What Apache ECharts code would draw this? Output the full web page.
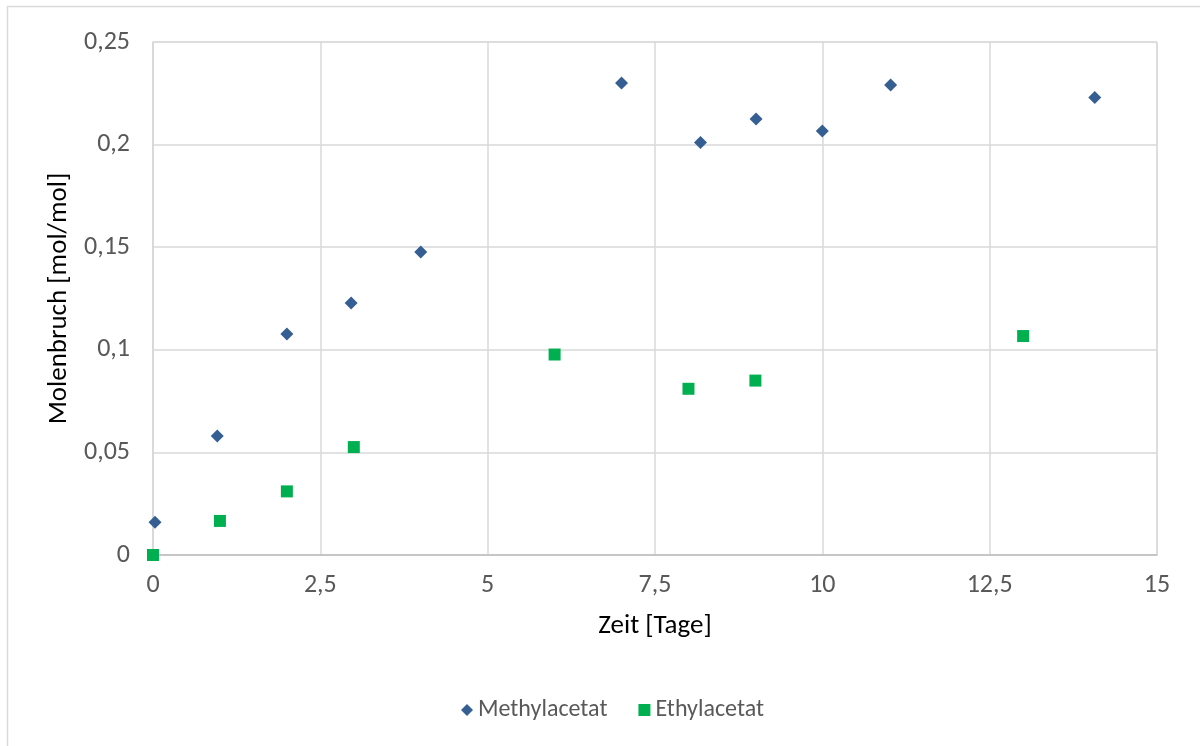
<!DOCTYPE html>
<html><head><meta charset="utf-8">
<script src="https://cdn.jsdelivr.net/npm/echarts@6/dist/echarts.min.js"></script>
<style>html,body{margin:0;padding:0;background:#fff;}#c{width:1200px;height:746px;}</style>
</head><body><div id="c"></div>
<script>
const seriesNames = ['Methylacetat', 'Ethylacetat'];
const methylX = [0.03, 0.96, 2.0, 2.96, 4.0, 7.0, 8.18, 9.01, 10.0, 11.02, 14.07];
const methylY = [0.016, 0.058, 0.1077, 0.1228, 0.1477, 0.230, 0.201, 0.2125, 0.2066, 0.229, 0.223];
const ethylX = [0, 1.0, 2.0, 3.0, 6.0, 8.0, 9.0, 13.0];
const ethylY = [0, 0.0166, 0.031, 0.0526, 0.0977, 0.081, 0.085, 0.1067];
const xTicks = {min: 0, max: 15, interval: 2.5};
const yTicks = {min: 0, max: 0.25, interval: 0.05};
const xTitle = 'Zeit [Tage]';
const yTitle = 'Molenbruch [mol/mol]';

const fmt = v => String(+v.toFixed(4)).replace('.', ',');
const pairs = (xs, ys) => xs.map((x, i) => [x, ys[i]]);
const font = "Carlito, Lato, 'Open Sans', sans-serif";
const chart = echarts.init(document.getElementById('c'), null, {renderer: 'canvas'});
chart.setOption({
  animation: false,
  textStyle: {fontFamily: font},
  graphic: [{type: 'rect', shape: {x: 7.5, y: 6.5, width: 1300, height: 800}, style: {fill: 'none', stroke: '#d9d9d9', lineWidth: 1.5}, silent: true, z: -10}],
  grid: {left: 153, right: 43, top: 42, bottom: 191, show: true, borderColor: '#d9d9d9', borderWidth: 1},
  legend: {
    data: [{name: seriesNames[0], icon: 'diamond'}, {name: seriesNames[1], icon: 'rect'}],
    left: 456, top: 693, itemWidth: 12, itemHeight: 12, itemGap: 31,
    textStyle: {fontSize: 24, color: '#595959', fontFamily: font}
  },
  xAxis: {
    type: 'value', min: xTicks.min, max: xTicks.max, interval: xTicks.interval,
    name: xTitle, nameLocation: 'middle', nameGap: 58,
    nameTextStyle: {fontSize: 27, color: '#000000', fontFamily: font},
    axisLine: {show: true, lineStyle: {color: '#bfbfbf', width: 1.5}}, axisTick: {show: false},
    axisLabel: {fontSize: 26, color: '#595959', margin: 17, formatter: fmt, fontFamily: font},
    splitLine: {show: true, lineStyle: {color: '#d9d9d9', width: 1.5}}
  },
  yAxis: {
    type: 'value', min: yTicks.min, max: yTicks.max, interval: yTicks.interval,
    name: yTitle, nameLocation: 'middle', nameGap: 74, nameRotate: 90,
    nameTextStyle: {fontSize: 27, color: '#000000', fontFamily: font},
    axisLine: {show: true, lineStyle: {color: '#d9d9d9', width: 1.5}}, axisTick: {show: false},
    axisLabel: {fontSize: 26, color: '#595959', margin: 23, formatter: fmt, fontFamily: font},
    splitLine: {show: true, lineStyle: {color: '#d9d9d9', width: 1.5}}
  },
  series: [
    {name: seriesNames[0], type: 'scatter', symbol: 'diamond', symbolSize: 13, data: pairs(methylX, methylY), itemStyle: {color: '#355f93', opacity: 1}},
    {name: seriesNames[1], type: 'scatter', symbol: 'rect', symbolSize: 12, data: pairs(ethylX, ethylY), itemStyle: {color: '#00b050', opacity: 1}}
  ]
});
</script></body></html>
